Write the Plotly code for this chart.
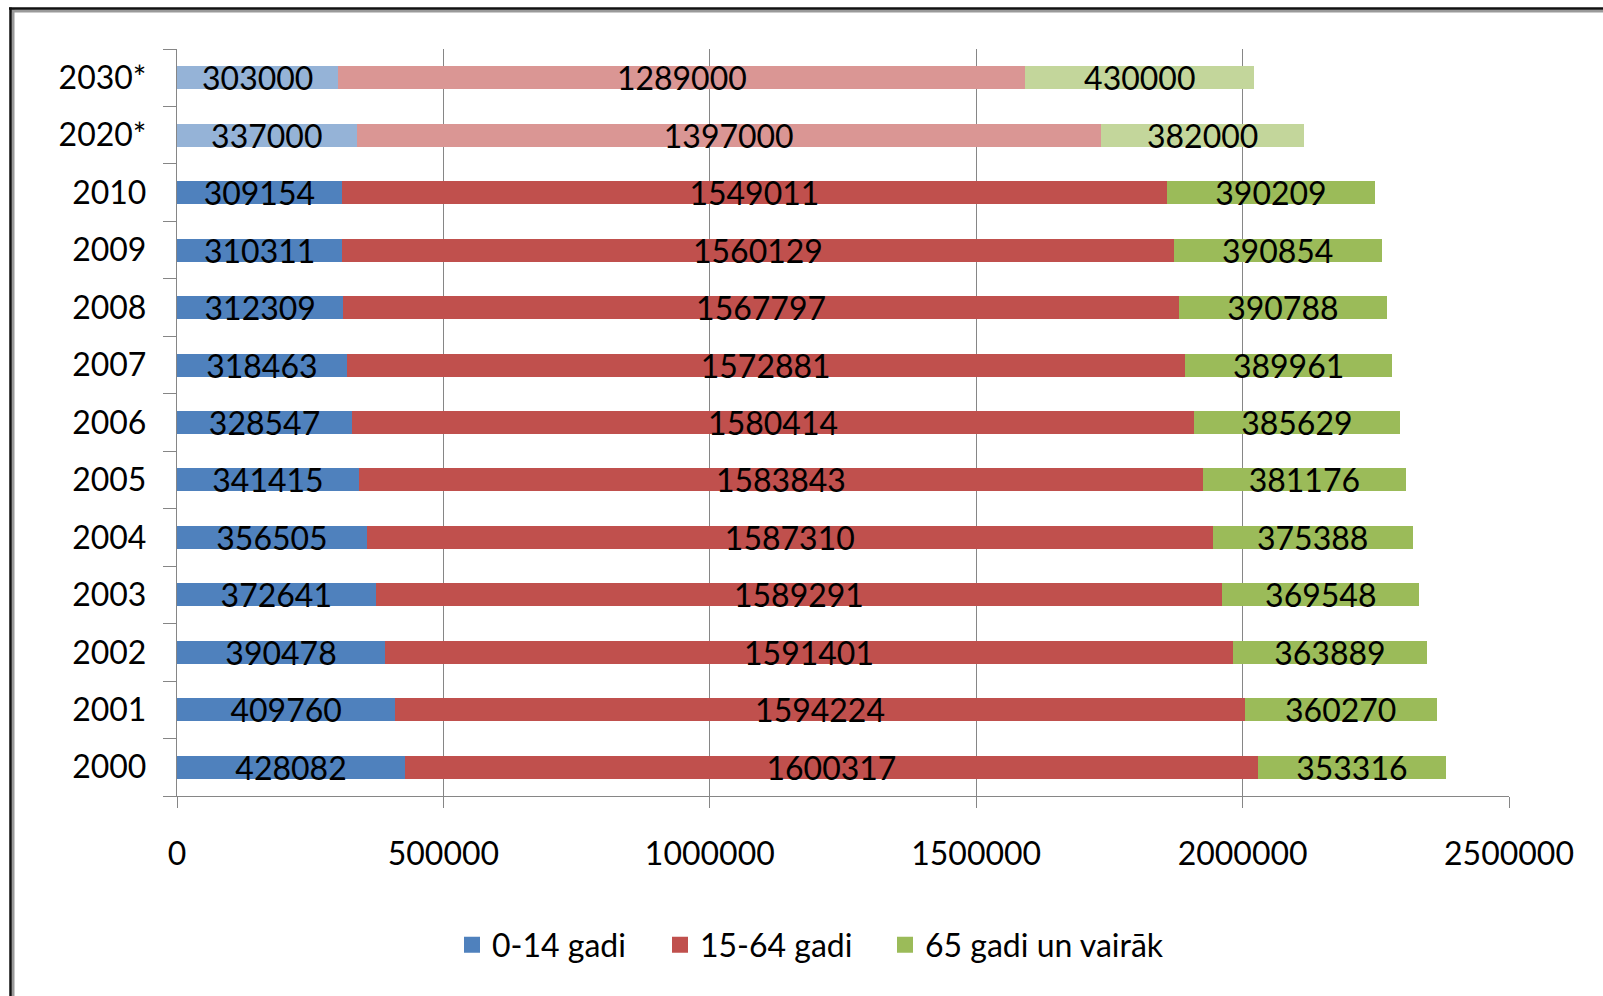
import plotly.graph_objects as go

# Population of Latvia by age group (2020* and 2030* are projections)
years = ["2000", "2001", "2002", "2003", "2004", "2005", "2006",
         "2007", "2008", "2009", "2010", "2020*", "2030*"]
projected_years = ["2020*", "2030*"]

age_0_14 = [428082, 409760, 390478, 372641, 356505, 341415, 328547,
            318463, 312309, 310311, 309154, 337000, 303000]
age_15_64 = [1600317, 1594224, 1591401, 1589291, 1587310, 1583843, 1580414,
             1572881, 1567797, 1560129, 1549011, 1397000, 1289000]
age_65_plus = [353316, 360270, 363889, 369548, 375388, 381176, 385629,
               389961, 390788, 390854, 390209, 382000, 430000]

series_names = ["0-14 gadi", "15-64 gadi", "65 gadi un vairāk"]
x_ticks = [0, 500000, 1000000, 1500000, 2000000, 2500000]

FONT = "Lato"
W, H = 1603, 996
L, R, T, B = 177, 94, 49, 200
plot_w, plot_h = W - L - R, H - T - B


def px_x(p):
    return (p - L) / plot_w


def px_y(p):
    return (H - B - p) / plot_h


palette = [
    ("#4F81BD", "#95B3D7"),
    ("#C0504D", "#DA9694"),
    ("#9BBB59", "#C3D69B"),
]
legend_widths = [163, 180, 270]

fig = go.Figure()
for name, values, (dark, light), lw in zip(series_names,
                                           [age_0_14, age_15_64, age_65_plus],
                                           palette, legend_widths):
    colors = [light if y in projected_years else dark for y in years]
    fig.add_trace(go.Bar(
        y=years, x=values, orientation="h", name=name,
        marker=dict(color=colors, line=dict(width=0)),
        text=[str(v) for v in values],
        textposition="inside", insidetextanchor="middle",
        textangle=0, constraintext="none",
        textfont=dict(family=FONT, size=32, color="black"),
        showlegend=False, hoverinfo="skip",
    ))
    # legend entry with a larger square swatch
    fig.add_trace(go.Scatter(
        x=[None], y=[None], mode="markers", name=name,
        marker=dict(symbol="square", size=16, color=dark),
        showlegend=True, legendwidth=lw,
    ))

axis_grey = "#868686"
fig.update_layout(
    width=W, height=H,
    margin=dict(l=L, r=R, t=T, b=B),
    barmode="stack", bargap=0.6,
    plot_bgcolor="white", paper_bgcolor="white",
    font=dict(family=FONT, size=32, color="black"),
    legend=dict(
        orientation="h", traceorder="normal",
        x=px_x(452), xanchor="left",
        y=px_y(945), yanchor="middle",
        font=dict(family=FONT, size=32, color="black"),
        bgcolor="rgba(0,0,0,0)",
    ),
    xaxis=dict(
        range=[0, 2500000], tickvals=x_ticks,
        ticktext=[str(v) for v in x_ticks],
        showgrid=True, gridcolor=axis_grey, gridwidth=1.3,
        showline=True, linecolor=axis_grey, linewidth=1.3,
        ticks="outside", ticklen=11, tickcolor=axis_grey, tickwidth=1.3,
        zeroline=False, ticklabelstandoff=18,
        tickfont=dict(family=FONT, size=32, color="black"),
    ),
    yaxis=dict(
        type="category", categoryorder="array", categoryarray=years,
        range=[-0.5, len(years) - 0.5],
        tickson="boundaries", ticks="outside", ticklen=13,
        tickcolor=axis_grey, tickwidth=1.3,
        showline=True, linecolor=axis_grey, linewidth=1.3,
        showgrid=False, zeroline=False, ticklabelstandoff=23,
        tickfont=dict(family=FONT, size=32, color="black"),
    ),
    shapes=[
        # frame edges: dark line with a soft grey shadow
        dict(type="line", xref="paper", yref="paper",
             x0=px_x(10), x1=px_x(W + 5), y0=px_y(11), y1=px_y(11),
             line=dict(color="#9a9a9a", width=3)),
        dict(type="line", xref="paper", yref="paper",
             x0=px_x(13), x1=px_x(13), y0=px_y(8), y1=px_y(H + 5),
             line=dict(color="#9a9a9a", width=3)),
        dict(type="line", xref="paper", yref="paper",
             x0=px_x(9), x1=px_x(W + 5), y0=px_y(8.5), y1=px_y(8.5),
             line=dict(color="#111111", width=2.5)),
        dict(type="line", xref="paper", yref="paper",
             x0=px_x(10.5), x1=px_x(10.5), y0=px_y(7.5), y1=px_y(H + 5),
             line=dict(color="#111111", width=2.5)),
    ],
)

fig.write_html("out.html")
